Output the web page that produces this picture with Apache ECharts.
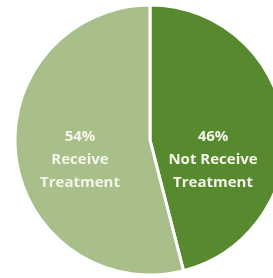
<!DOCTYPE html>
<html>
<head>
<meta charset="utf-8">
<script src="https://cdn.jsdelivr.net/npm/echarts@6/dist/echarts.min.js"></script>
<style>
  html, body { margin: 0; padding: 0; background: #fff; }
  #chart { width: 273px; height: 278px; }
</style>
</head>
<body>
<div id="chart"></div>
<script>
const categories = ['Not Receive\nTreatment', 'Receive\nTreatment']
const values = [46, 54]
const colors = ['#578a2e', '#a8bf8a']
// label centres (px)
const labelX = [213, 80]
const labelY = 160

const chart = echarts.init(document.getElementById('chart'))
chart.setOption({
  animation: false,
  series: [{
    type: 'pie',
    center: [150, 140],
    radius: 135,
    startAngle: 90,
    clockwise: true,
    data: categories.map((c, i) => ({ name: c, value: values[i], itemStyle: { color: colors[i] } })),
    itemStyle: { borderColor: '#ffffff', borderWidth: 3 },
    label: {
      position: 'inside',
      formatter: p => p.value + '%\n' + p.name,
      color: '#f3f5e8',
      fontFamily: 'Open Sans',
      fontWeight: 'bold',
      fontSize: 15,
      lineHeight: 23,
      align: 'center',
      verticalAlign: 'middle'
    },
    labelLayout: p => ({ x: labelX[p.dataIndex], y: labelY, align: 'center', verticalAlign: 'middle' }),
    emphasis: { disabled: true }
  }]
})
</script>
</body>
</html>
